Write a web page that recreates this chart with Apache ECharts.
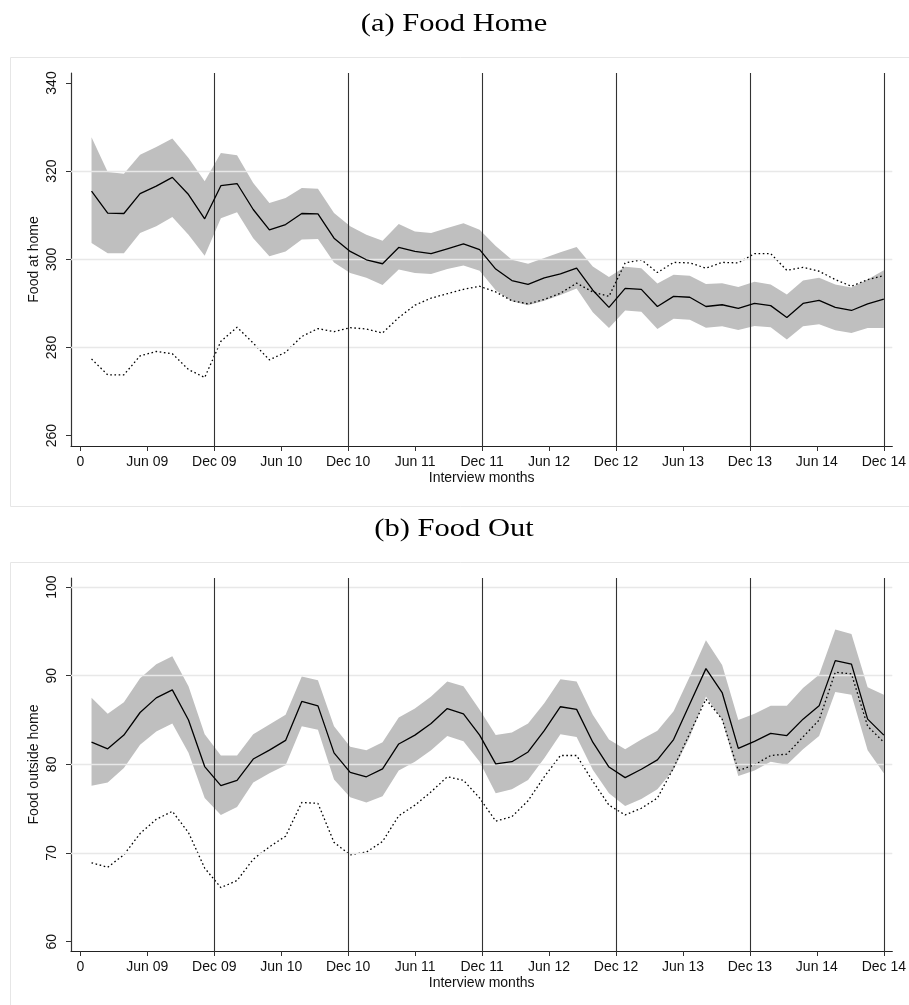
<!DOCTYPE html>
<html>
<head>
<meta charset="utf-8">
<script src="https://cdn.jsdelivr.net/npm/echarts@6/dist/echarts.min.js"></script>
<style>
  html, body { margin: 0; padding: 0; background: #ffffff; }
  #chart { width: 909px; height: 1005px; }
</style>
</head>
<body>
<div id="chart"></div>
<script>
// Interview waves, positioned in months since December 2008
const months = [1.00, 2.45, 3.90, 5.35, 6.80, 8.24, 9.69, 11.14, 12.59, 14.04,
  15.49, 16.94, 18.39, 19.84, 21.29, 22.73, 24.18, 25.63, 27.08, 28.53,
  29.98, 31.43, 32.88, 34.33, 35.78, 37.22, 38.67, 40.12, 41.57, 43.02,
  44.47, 45.92, 47.37, 48.82, 50.27, 51.71, 53.16, 54.61, 56.06, 57.51,
  58.96, 60.41, 61.86, 63.31, 64.76, 66.20, 67.65, 69.10, 70.55, 72.00];

// x-axis ticks
const tickMonths = [0, 6, 12, 18, 24, 30, 36, 42, 48, 54, 60, 66, 72];
const tickLabels = ['0', 'Jun 09', 'Dec 09', 'Jun 10', 'Dec 10', 'Jun 11', 'Dec 11',
  'Jun 12', 'Dec 12', 'Jun 13', 'Dec 13', 'Jun 14', 'Dec 14'];
// December reference lines
const decemberMonths = [12, 24, 36, 48, 60, 72];

// (a) Food at home
const homeTicks = [260, 280, 300, 320, 340];
const homeGrid = [280, 300, 320];
const homeMean = [315.5, 310.5, 310.4, 314.9, 316.6, 318.6, 314.7, 309.2, 316.7, 317.2,
  311.3, 306.7, 307.9, 310.4, 310.3, 304.8, 301.8, 299.9, 299.0, 302.7,
  301.8, 301.3, 302.4, 303.5, 302.2, 297.8, 295.2, 294.3, 295.8, 296.7,
  298.0, 293.0, 289.1, 293.4, 293.2, 289.3, 291.6, 291.4, 289.3, 289.7,
  288.9, 290.0, 289.5, 286.8, 290.0, 290.7, 289.1, 288.4, 289.9, 291.0];
const homeUpper = [327.7, 319.8, 319.4, 323.7, 325.5, 327.4, 323.0, 317.7, 324.1, 323.6,
  317.3, 312.8, 313.9, 316.2, 316.0, 310.5, 307.5, 305.6, 304.2, 308.0,
  306.3, 306.0, 307.1, 308.2, 306.7, 303.0, 299.9, 299.0, 300.3, 301.6,
  302.8, 298.4, 296.0, 298.3, 298.0, 294.5, 296.5, 296.3, 294.4, 294.6,
  293.7, 294.9, 294.3, 292.0, 295.2, 295.8, 294.3, 293.6, 295.4, 297.5];
const homeLower = [303.7, 301.4, 301.4, 306.0, 307.5, 309.6, 305.6, 300.8, 309.3, 310.7,
  304.8, 300.7, 301.8, 304.5, 304.6, 299.3, 296.9, 295.8, 294.2, 297.7,
  296.9, 296.7, 297.8, 298.6, 297.4, 293.0, 290.5, 289.6, 290.6, 291.9,
  293.4, 288.0, 284.4, 288.4, 288.1, 284.2, 286.5, 286.3, 284.5, 284.8,
  284.0, 284.9, 284.6, 281.8, 284.8, 285.3, 283.9, 283.3, 284.4, 284.4];
const homeDotted = [277.4, 273.8, 273.8, 278.1, 279.1, 278.6, 275.0, 273.2, 281.4, 284.6,
  281.0, 277.2, 278.9, 282.5, 284.3, 283.6, 284.5, 284.2, 283.3, 286.8,
  289.6, 291.2, 292.2, 293.2, 293.9, 292.6, 290.6, 289.9, 290.9, 292.3,
  294.6, 292.6, 291.6, 299.2, 299.9, 297.0, 299.3, 299.2, 298.0, 299.3,
  299.2, 301.3, 301.3, 297.5, 298.2, 297.3, 295.4, 293.9, 295.4, 296.3];

// (b) Food outside home
const outTicks = [60, 70, 80, 90, 100];
const outGrid = [70, 80, 90, 100];
const outMean = [82.5, 81.75, 83.3, 85.85, 87.5, 88.4, 85.0, 79.75, 77.6, 78.2,
  80.6, 81.6, 82.7, 87.1, 86.6, 81.3, 79.1, 78.6, 79.5, 82.3,
  83.3, 84.6, 86.3, 85.7, 83.3, 80.05, 80.3, 81.4, 83.8, 86.5,
  86.2, 82.5, 79.7, 78.5, 79.45, 80.5, 82.8, 86.8, 90.8, 88.1,
  81.8, 82.6, 83.5, 83.25, 85.1, 86.6, 91.7, 91.3, 85.1, 83.3];
const outUpper = [87.5, 85.7, 87.0, 89.7, 91.3, 92.2, 88.8, 83.4, 81.0, 81.0,
  83.4, 84.5, 85.6, 89.9, 89.5, 84.3, 82.0, 81.6, 82.5, 85.3,
  86.3, 87.65, 89.35, 88.8, 86.15, 83.3, 83.6, 84.6, 86.9, 89.6,
  89.35, 85.6, 82.8, 81.7, 82.8, 83.8, 86.0, 89.9, 94.0, 91.2,
  85.0, 85.7, 86.6, 86.6, 88.6, 90.1, 95.2, 94.7, 88.7, 87.85];
const outLower = [77.6, 77.95, 79.6, 82.2, 83.7, 84.6, 81.3, 76.2, 74.3, 75.2,
  77.95, 79.0, 79.9, 84.3, 83.9, 78.3, 76.3, 75.7, 76.4, 79.3,
  80.3, 81.6, 83.2, 82.6, 80.3, 76.75, 77.2, 78.25, 80.7, 83.4,
  83.1, 79.4, 76.75, 75.3, 76.1, 77.2, 79.4, 83.1, 87.65, 85.0,
  78.7, 79.3, 80.3, 79.95, 81.7, 83.2, 88.15, 87.85, 81.6, 79.0];
const outDotted = [68.9, 68.4, 69.8, 72.2, 73.8, 74.7, 72.3, 68.3, 66.1, 66.9,
  69.3, 70.7, 71.9, 75.7, 75.6, 71.2, 69.8, 70.1, 71.3, 74.2,
  75.4, 76.9, 78.6, 78.2, 76.2, 73.6, 74.1, 75.9, 78.6, 81.0,
  81.0, 78.1, 75.4, 74.3, 75.05, 76.2, 79.6, 83.5, 87.35, 85.1,
  79.3, 79.95, 81.0, 81.15, 83.1, 85.0, 90.4, 90.2, 84.3, 82.5];

const SANS = '"Liberation Sans", Arial, Helvetica, sans-serif';
const SERIF = '"Liberation Serif", "Times New Roman", serif';
const INK = '#111111';
const BAND = '#bfbfbf';

const pairs = (ys) => ys.map((y, i) => [months[i], y]);

function xAxisFor(gridIndex) {
  return {
    type: 'value', gridIndex,
    min: -0.84, max: 72.76,
    axisLine: { show: true, onZero: false, lineStyle: { color: '#222', width: 1.2 } },
    axisTick: { show: true, customValues: tickMonths, length: 5, lineStyle: { color: '#333', width: 1 } },
    axisLabel: {
      customValues: tickMonths,
      formatter: (v) => tickLabels[tickMonths.indexOf(Math.round(v))],
      fontFamily: SANS, fontSize: 14, color: INK, margin: 9
    },
    splitLine: { show: false },
    name: 'Interview months', nameLocation: 'middle', nameGap: 25,
    nameTextStyle: { fontFamily: SANS, fontSize: 14, color: INK }
  };
}

function yAxisFor(gridIndex, min, max, ticks, title) {
  return {
    type: 'value', gridIndex, min, max,
    axisLine: { show: true, onZero: false, lineStyle: { color: '#333', width: 1.2 } },
    axisTick: { show: true, customValues: ticks, length: 5, lineStyle: { color: '#333', width: 1 } },
    axisLabel: {
      customValues: ticks, rotate: 90,
      fontFamily: SANS, fontSize: 14, color: INK, margin: 12
    },
    splitLine: { show: false },
    name: title, nameLocation: 'middle', nameGap: 30, nameMoveOverlap: false,
    nameTextStyle: { fontFamily: SANS, fontSize: 14, color: INK }
  };
}

function panelSeries(idx, mean, upper, lower, dotted, gridValues) {
  return [
    {
      // light horizontal grid lines
      type: 'line', xAxisIndex: idx, yAxisIndex: idx,
      data: pairs(mean), symbol: 'none', silent: true, z: 1,
      lineStyle: { opacity: 0 },
      markLine: {
        silent: true, symbol: 'none', label: { show: false },
        lineStyle: { color: '#e8e8e8', width: 1.3, type: 'solid' },
        data: gridValues.map(v => ({ yAxis: v }))
      }
    },
    {
      // confidence band: one polygon through the upper bounds and back along the lower bounds
      type: 'custom', coordinateSystem: 'cartesian2d',
      xAxisIndex: idx, yAxisIndex: idx, silent: true, z: 2,
      data: months.map((m, i) => [m, lower[i], upper[i]]),
      encode: { x: 0, y: [1, 2] },
      renderItem: (params, api) => {
        if (params.dataIndex !== 0) return null;
        const top = months.map((m, i) => api.coord([m, upper[i]]));
        const bottom = months.map((m, i) => api.coord([m, lower[i]])).reverse();
        return {
          type: 'polygon',
          shape: { points: top.concat(bottom) },
          style: { fill: BAND, stroke: null }
        };
      }
    },
    {
      type: 'line', xAxisIndex: idx, yAxisIndex: idx,
      data: pairs(dotted), symbol: 'none', silent: true, z: 4,
      lineStyle: { color: '#000', width: 1.3, type: [1.6, 2.6] }
    },
    {
      type: 'line', xAxisIndex: idx, yAxisIndex: idx,
      data: pairs(mean), symbol: 'none', silent: true, z: 5,
      lineStyle: { color: '#000', width: 1.3 },
      markLine: {
        silent: true, symbol: 'none', label: { show: false },
        lineStyle: { color: '#333', width: 1.1, type: 'solid' },
        data: decemberMonths.map(m => ({ xAxis: m }))
      }
    }
  ];
}

const chart = echarts.init(document.getElementById('chart'), null, { renderer: 'canvas' });

chart.setOption({
  animation: false,
  backgroundColor: '#ffffff',
  grid: [
    { left: 71, width: 822, top: 73, height: 373 },
    { left: 71, width: 822, top: 578, height: 373 }
  ],
  xAxis: [xAxisFor(0), xAxisFor(1)],
  yAxis: [
    yAxisFor(0, 257.66, 342.27, homeTicks, 'Food at home'),
    yAxisFor(1, 58.95, 101.02, outTicks, 'Food outside home')
  ],
  graphic: [
    { type: 'rect', silent: true, z: -1,
      shape: { x: 10.5, y: 57.5, width: 905, height: 449 },
      style: { fill: 'none', stroke: '#e6e6e6', lineWidth: 1 } },
    { type: 'rect', silent: true, z: -1,
      shape: { x: 10.5, y: 562.5, width: 905, height: 450 },
      style: { fill: 'none', stroke: '#e6e6e6', lineWidth: 1 } },
    { type: 'text', x: 454, y: 24, scaleX: 1.22, silent: true,
      style: { text: '(a) Food Home', font: '25px ' + SERIF, fill: '#000',
               align: 'center', verticalAlign: 'middle' } },
    { type: 'text', x: 454, y: 529, scaleX: 1.22, silent: true,
      style: { text: '(b) Food Out', font: '25px ' + SERIF, fill: '#000',
               align: 'center', verticalAlign: 'middle' } }
  ],
  series: [
    ...panelSeries(0, homeMean, homeUpper, homeLower, homeDotted, homeGrid),
    ...panelSeries(1, outMean, outUpper, outLower, outDotted, outGrid)
  ]
});
</script>
</body>
</html>
